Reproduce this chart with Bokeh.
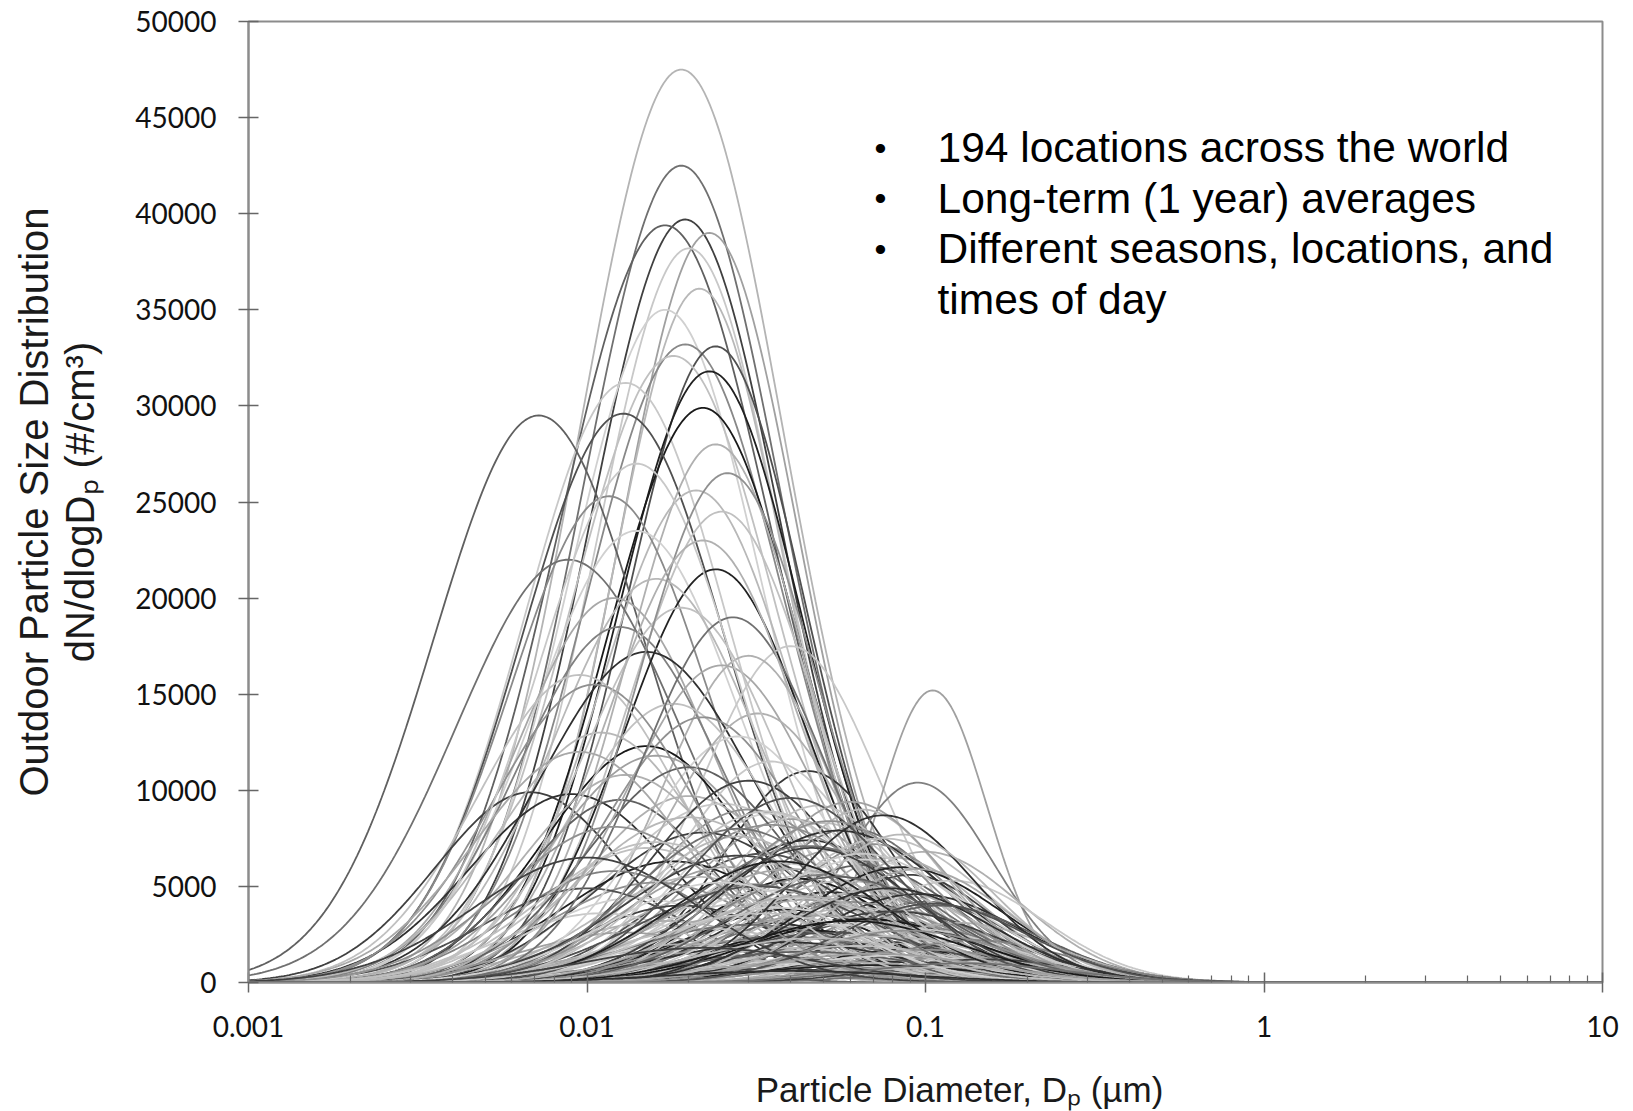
import numpy as np
from bokeh.plotting import figure
from bokeh.models import Range1d, FixedTicker, Label, ColumnDataSource, LinearAxis
from bokeh.embed import file_html
from bokeh.resources import INLINE

# ---------------- data ----------------
# each curve: lognormal mode diameter (um), peak dN/dlogDp (#/cm3),
# log10 of geometric standard deviation, and line gray shade
mode_um = [
    0.019, 0.019, 0.0195, 0.017, 0.023, 0.020, 0.0215, 0.017, 0.0195, 0.024,
    0.018, 0.023, 0.013, 0.022, 0.0128, 0.0072, 0.024, 0.021, 0.0116, 0.025,
    0.014, 0.0088, 0.024, 0.016, 0.012, 0.0125, 0.040, 0.015, 0.030, 0.105,
    0.0095, 0.015, 0.045, 0.095, 0.0068, 0.009, 0.0125,
    0.020, 0.025, 0.030, 0.035, 0.040, 0.050, 0.060, 0.022, 0.028, 0.045,
    0.070, 0.015, 0.055, 0.033, 0.080, 0.018, 0.038, 0.065, 0.026, 0.012,
    0.048, 0.090, 0.021, 0.042, 0.058, 0.016, 0.031, 0.075, 0.010, 0.036,
    0.052, 0.024, 0.068, 0.014, 0.044, 0.100, 0.029, 0.019, 0.062, 0.039,
    0.085, 0.011, 0.050, 0.027, 0.072, 0.017, 0.034, 0.056, 0.095, 0.023,
    0.046, 0.013, 0.064, 0.038, 0.110, 0.030, 0.078, 0.020, 0.052, 0.041,
    0.088, 0.015, 0.060, 0.032, 0.120, 0.025, 0.070, 0.045, 0.018, 0.090,
    0.036, 0.055, 0.130,
    0.018, 0.022, 0.011, 0.028, 0.016, 0.035, 0.020, 0.013, 0.030, 0.025,
    0.0105, 0.032, 0.019, 0.027, 0.014, 0.026, 0.022, 0.0095, 0.048, 0.065,
    0.035, 0.055, 0.075, 0.045, 0.100, 0.028, 0.065, 0.085, 0.040, 0.050,
    0.120, 0.032, 0.070, 0.095, 0.042, 0.058, 0.110, 0.036, 0.080, 0.048,
    0.066, 0.125, 0.030, 0.090, 0.054, 0.074, 0.140, 0.038, 0.062, 0.100,
    0.044, 0.082, 0.150, 0.050, 0.068, 0.115, 0.020, 0.012, 0.016, 0.010,
    0.040, 0.060, 0.034, 0.075, 0.052, 0.028, 0.085, 0.046, 0.065, 0.037,
    0.095, 0.055, 0.025, 0.078, 0.043, 0.105, 0.033, 0.060, 0.088, 0.047,
    0.022, 0.070, 0.130, 0.040,
]
peak_conc = [
    47500, 42500, 39700, 39400, 39000, 38200, 36100, 35000, 33200, 33100,
    32600, 31800, 31200, 29900, 29600, 29500, 28000, 25600, 25300, 24500,
    23500, 22000, 21500, 21000, 20000, 18500, 17500, 17200, 17000, 15200,
    16000, 12300, 11000, 10400, 9900, 9800, 9500,
    9700, 9300, 9000, 8800, 8500, 8300, 8000, 7800, 7600, 7400,
    7200, 7000, 6900, 6700, 6500, 6300, 6200, 6100, 6000, 5800,
    5700, 5600, 5500, 5400, 5300, 5200, 5100, 5000, 4900, 4800,
    4700, 4600, 4500, 4400, 4300, 4200, 4100, 4000, 3900, 3800,
    3700, 3600, 3500, 3400, 3300, 3200, 3100, 3000, 2900, 2800,
    2700, 2600, 2500, 2400, 2300, 2200, 2100, 2000, 1900, 1800,
    1700, 1600, 1500, 1400, 1300, 1200, 1100, 1000, 900, 800,
    700, 600, 500,
    14500, 13800, 13000, 12800, 11800, 11500, 11200, 10800, 10500, 16500,
    15500, 14000, 19500, 19000, 27000, 26500, 23000, 12000, 9200, 9000,
    8200, 7900, 7500, 7100, 6800, 6600, 6400, 6000, 5900, 5600,
    5300, 5000, 4800, 4600, 4400, 4200, 4000, 3900, 3700, 3500,
    3300, 3100, 3000, 2800, 2600, 2400, 2200, 2100, 1900, 1700,
    1600, 1400, 1200, 1100, 900, 800, 8600, 8100, 7300, 6500,
    9600, 9400, 8900, 8700, 8400, 8000, 7700, 7000, 6700, 6300,
    5900, 5500, 5200, 4900, 4500, 4100, 3600, 3200, 2700, 2300,
    1800, 1500, 1000, 600,
]
log_sigma = [
    0.30, 0.29, 0.28, 0.31, 0.26, 0.27, 0.25, 0.28, 0.29, 0.26,
    0.30, 0.27, 0.30, 0.28, 0.30, 0.31, 0.26, 0.28, 0.29, 0.27,
    0.30, 0.33, 0.27, 0.30, 0.29, 0.30, 0.26, 0.32, 0.25, 0.16,
    0.30, 0.30, 0.25, 0.22, 0.28, 0.30, 0.28,
    0.30, 0.33, 0.30, 0.28, 0.30, 0.27, 0.28, 0.32, 0.30, 0.30,
    0.26, 0.30, 0.30, 0.31, 0.27, 0.33, 0.30, 0.29, 0.31, 0.30,
    0.32, 0.25, 0.30, 0.28, 0.31, 0.32, 0.30, 0.28, 0.31, 0.33,
    0.30, 0.30, 0.30, 0.31, 0.30, 0.26, 0.32, 0.30, 0.31, 0.29,
    0.28, 0.30, 0.32, 0.31, 0.30, 0.33, 0.30, 0.31, 0.27, 0.32,
    0.30, 0.31, 0.30, 0.33, 0.26, 0.30, 0.31, 0.32, 0.30, 0.31,
    0.28, 0.30, 0.33, 0.30, 0.27, 0.32, 0.30, 0.31, 0.33, 0.29,
    0.32, 0.30, 0.28,
    0.30, 0.29, 0.30, 0.28, 0.31, 0.27, 0.30, 0.30, 0.29, 0.28,
    0.30, 0.27, 0.29, 0.27, 0.29, 0.26, 0.28, 0.31, 0.26, 0.25,
    0.34, 0.33, 0.31, 0.35, 0.28, 0.34, 0.33, 0.30, 0.35, 0.34,
    0.27, 0.35, 0.33, 0.30, 0.35, 0.34, 0.29, 0.34, 0.32, 0.35,
    0.33, 0.28, 0.35, 0.31, 0.34, 0.33, 0.28, 0.35, 0.34, 0.31,
    0.35, 0.33, 0.28, 0.36, 0.34, 0.31, 0.33, 0.32, 0.33, 0.33,
    0.30, 0.28, 0.31, 0.27, 0.30, 0.31, 0.27, 0.31, 0.30, 0.32,
    0.27, 0.32, 0.33, 0.30, 0.33, 0.28, 0.34, 0.33, 0.30, 0.34,
    0.34, 0.33, 0.30, 0.36,
]
shade = [
    "#b4b4b4", "#707070", "#404040", "#606060", "#a0a0a0", "#c8c8c8", "#b8b8b8", "#d0d0d0", "#888888", "#505050",
    "#c0c0c0", "#202020", "#c8c8c8", "#1a1a1a", "#505050", "#606060", "#b0b0b0", "#b8b8b8", "#8a8a8a", "#c0c0c0",
    "#d0d0d0", "#707070", "#222222", "#b8b8b8", "#a8a8a8", "#808080", "#c8c8c8", "#303030", "#b0b0b0", "#a0a0a0",
    "#c0c0c0", "#181818", "#383838", "#808080", "#404040", "#303030", "#606060",
    "#b0b0b0", "#c8c8c8", "#909090", "#d0d0d0", "#a0a0a0", "#c0c0c0", "#707070", "#404040", "#b8b8b8", "#303030",
    "#909090", "#c0c0c0", "#a8a8a8", "#505050", "#b0b0b0", "#202020", "#c8c8c8", "#606060", "#a0a0a0", "#808080",
    "#d0d0d0", "#404040", "#b8b8b8", "#181818", "#c0c0c0", "#909090", "#707070", "#a8a8a8", "#505050", "#c8c8c8",
    "#303030", "#b0b0b0", "#808080", "#d0d0d0", "#a0a0a0", "#606060", "#c0c0c0", "#404040", "#b8b8b8", "#202020",
    "#909090", "#c8c8c8", "#707070", "#a8a8a8", "#505050", "#b0b0b0", "#303030", "#d0d0d0", "#808080", "#c0c0c0",
    "#1a1a1a", "#a0a0a0", "#b8b8b8", "#606060", "#c8c8c8", "#909090", "#404040", "#b0b0b0", "#707070", "#c0c0c0",
    "#202020", "#a8a8a8", "#d0d0d0", "#505050", "#909090", "#b8b8b8", "#303030", "#c8c8c8", "#808080", "#a0a0a0",
    "#404040", "#b0b0b0", "#707070",
    "#c0c0c0", "#909090", "#b8b8b8", "#d0d0d0", "#a0a0a0", "#c8c8c8", "#606060", "#b0b0b0", "#404040", "#a8a8a8",
    "#909090", "#b0b0b0", "#c0c0c0", "#707070", "#c8c8c8", "#909090", "#b0b0b0", "#a8a8a8", "#c0c0c0", "#b8b8b8",
    "#909090", "#303030", "#c0c0c0", "#707070", "#b0b0b0", "#404040", "#d0d0d0", "#202020", "#a8a8a8", "#808080",
    "#c8c8c8", "#505050", "#b8b8b8", "#303030", "#c0c0c0", "#909090", "#606060", "#d0d0d0", "#404040", "#a0a0a0",
    "#181818", "#b0b0b0", "#707070", "#c8c8c8", "#505050", "#b8b8b8", "#808080", "#303030", "#c0c0c0", "#909090",
    "#606060", "#d0d0d0", "#404040", "#a8a8a8", "#202020", "#b0b0b0", "#b8b8b8", "#909090", "#c0c0c0", "#404040",
    "#505050", "#a0a0a0", "#c0c0c0", "#303030", "#909090", "#707070", "#b8b8b8", "#404040", "#c8c8c8", "#202020",
    "#a8a8a8", "#606060", "#d0d0d0", "#303030", "#b0b0b0", "#505050", "#c0c0c0", "#1a1a1a", "#909090", "#b8b8b8",
    "#404040", "#a0a0a0", "#707070", "#303030",
]

x_tick_values = [0.001, 0.01, 0.1, 1, 10]
x_tick_labels = ["0.001", "0.01", "0.1", "1", "10"]
y_tick_values = [0, 5000, 10000, 15000, 20000, 25000, 30000, 35000, 40000, 45000, 50000]
y_tick_labels = ["0", "5000", "10000", "15000", "20000", "25000", "30000", "35000", "40000", "45000", "50000"]

x_title = "Particle Diameter, D\u209a (\u00b5m)"
y_title_1 = "Outdoor Particle Size Distribution"
y_title_2 = "dN/dlogD\u209a (#/cm\u00b3)"
bullet_lines = ["194 locations across the world", "Long-term (1 year) averages",
                "Different seasons, locations, and", "times of day"]
bullet_marks = ["\u2022", "\u2022", "\u2022", ""]

# ---------------- curves ----------------
diam = np.logspace(-3, 1, 500)
xs, ys = [], []
for dm, a, s in zip(mode_um, peak_conc, log_sigma):
    xs.append(diam)
    ys.append(a * np.exp(-(np.log10(diam / dm)) ** 2 / (2 * s ** 2)))
src = ColumnDataSource(dict(xs=xs, ys=ys, color=shade))

p = figure(width=1625, height=1111, x_axis_type="log",
           x_range=Range1d(0.001, 10), y_range=Range1d(0, 50000),
           output_backend="svg", toolbar_location=None,
           min_border_left=248, min_border_right=23, min_border_top=21, min_border_bottom=127)
p.grid.visible = False
p.background_fill_color = "white"
p.border_fill_color = "white"
p.outline_line_color = "#8c8c8c"
p.outline_line_width = 2

p.multi_line("xs", "ys", source=src, line_color="color", line_width=1.8)

TICK_FONT = "Lato"
TF = "Liberation Sans"
minor = [m * 10.0 ** e for e in range(-3, 1) for m in range(2, 10)]
p.xaxis.ticker = FixedTicker(ticks=x_tick_values, minor_ticks=minor)
p.xaxis.major_label_overrides = {v: l for v, l in zip(x_tick_values, x_tick_labels)}
p.yaxis.ticker = FixedTicker(ticks=y_tick_values)
p.yaxis.major_label_overrides = {v: l for v, l in zip(y_tick_values, y_tick_labels)}

for ax in (p.xaxis[0], p.yaxis[0]):
    ax.axis_line_color = "#8c8c8c"
    ax.axis_line_width = 2
    ax.major_tick_line_color = "#666666"
    ax.major_tick_line_width = 1.5
    ax.major_tick_in = 10
    ax.major_tick_out = 10
    ax.major_label_text_font = TICK_FONT
    ax.major_label_text_font_size = "28px"
    ax.major_label_text_color = "#111111"
    ax.axis_label_text_font = TF
    ax.axis_label_text_font_style = "normal"
    ax.axis_label_text_color = "#1a1a1a"
p.xaxis.minor_tick_line_color = "#666666"
p.xaxis.minor_tick_line_width = 1.2
p.xaxis.minor_tick_in = 7
p.xaxis.minor_tick_out = 0
p.yaxis.minor_tick_line_color = None
p.xaxis.major_label_standoff = 23
p.yaxis.major_label_standoff = 22

# x title (shifted right of the frame centre as in the original)
p.xaxis.axis_label = "\u00a0" * 7 + x_title
p.xaxis.axis_label_text_font_size = "35px"
p.xaxis.axis_label_text_line_height = 1.0
p.xaxis.axis_label_standoff = 30

# y title, second line next to the tick labels
p.yaxis.axis_label = y_title_2
p.yaxis.axis_label_text_font_size = "40px"
p.yaxis.axis_label_standoff = 30

# y title, first line on an outer blank axis
outer = LinearAxis(ticker=FixedTicker(ticks=[]), axis_label=y_title_1,
                   axis_line_color=None, major_tick_line_color=None, minor_tick_line_color=None,
                   major_tick_in=0, major_tick_out=0, major_label_standoff=0,
                   axis_label_standoff=0, axis_label_text_font=TF,
                   axis_label_text_font_style="normal", axis_label_text_font_size="40px",
                   axis_label_text_color="#1a1a1a")
p.add_layout(outer, "left")

# bullet text block (screen units relative to the frame's bottom-left corner)
for i, (b, t) in enumerate(zip(bullet_marks, bullet_lines)):
    yy = 835 - i * 50.5
    if b:
        p.add_layout(Label(x=632, y=yy, x_units="screen", y_units="screen", text=b,
                           text_font=TF, text_font_size="34px", text_align="center",
                           text_baseline="middle", text_color="#000000"))
    p.add_layout(Label(x=689, y=yy, x_units="screen", y_units="screen", text=t,
                       text_font=TF, text_font_size="42.5px", text_align="left",
                       text_baseline="middle", text_color="#000000"))

open("out.html", "w").write(file_html(p, INLINE))
